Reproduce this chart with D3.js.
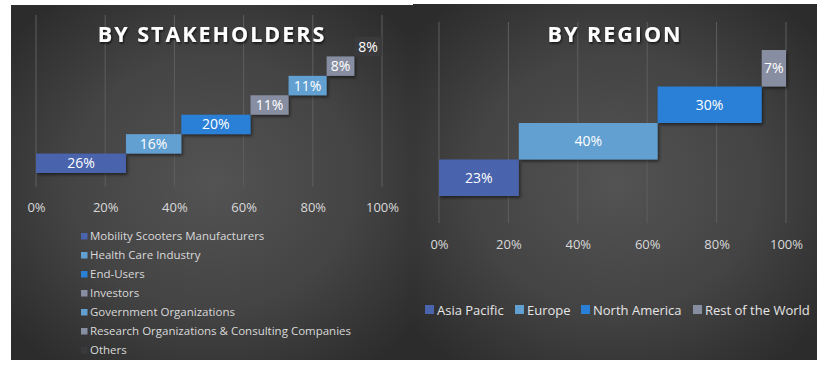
<!DOCTYPE html>
<html>
<head>
<meta charset="utf-8">
<script src="https://cdn.jsdelivr.net/npm/d3@7"></script>
<style>
  body { margin: 0; background: #fff; }
  text { font-family: 'Open Sans', 'Noto Sans', sans-serif; }
</style>
</head>
<body>
<div id="chart"></div>
<script>
// stakeholders
var stakeholders = ['Mobility Scooters Manufacturers', 'Health Care Industry', 'End-Users', 'Investors',
    'Government Organizations', 'Research Organizations & Consulting Companies', 'Others']
var stakeValues = [26, 16, 20, 11, 11, 8, 8]
var stakeColors = ['#4a64ad', '#62a0d2', '#2a7fd6', '#888ea2', '#62a0d2', '#888ea2', '#3a3a3c']

// regions
var regions = ['Asia Pacific', 'Europe', 'North America', 'Rest of the World']
var regionValues = [23, 40, 30, 7]
var regionColors = ['#4a64ad', '#62a0d2', '#2a7fd6', '#888ea2']

var tickValues = [0, 20, 40, 60, 80, 100]

var width = 837, height = 374

var svg = d3.select('#chart').append('svg')
    .attr('width', width)
    .attr('height', height)

var defs = svg.append('defs')

function radial(id) {
    var g = defs.append('radialGradient')
        .attr('id', id)
        .attr('cx', '50%').attr('cy', '50%').attr('r', '65%')
    g.append('stop').attr('offset', '0%').attr('stop-color', '#535353')
    g.append('stop').attr('offset', '55%').attr('stop-color', '#444445')
    g.append('stop').attr('offset', '100%').attr('stop-color', '#2c2c2c')
}
radial('bg-left')
radial('bg-right')

var shadow = defs.append('filter').attr('id', 'shadow')
    .attr('x', '-10%').attr('y', '-10%').attr('width', '130%').attr('height', '140%')
shadow.append('feDropShadow')
    .attr('dx', 1.5).attr('dy', 2).attr('stdDeviation', 1.5)
    .attr('flood-color', '#000').attr('flood-opacity', 0.5)

var tshadow = defs.append('filter').attr('id', 'tshadow')
tshadow.append('feDropShadow')
    .attr('dx', 1).attr('dy', 1.5).attr('stdDeviation', 1.2)
    .attr('flood-color', '#000').attr('flood-opacity', 0.7)

// backgrounds
svg.append('rect').attr('x', 11).attr('y', 5).attr('width', 402).attr('height', 355)
    .attr('fill', 'url(#bg-left)')
svg.append('rect').attr('x', 413).attr('y', 4).attr('width', 404).attr('height', 356)
    .attr('fill', 'url(#bg-right)')

function waterfall(cfg) {
    var g = svg.append('g')

    var x = d3.scaleLinear().domain([0, 100]).range([cfg.x0, cfg.x1])
    var y = d3.scaleBand().domain(cfg.names).range([cfg.yBottom, cfg.yTop]).padding(0)

    // gridlines
    g.selectAll('.grid').data(tickValues).enter().append('line')
        .attr('x1', d => x(d)).attr('x2', d => x(d))
        .attr('y1', cfg.gridTop).attr('y2', cfg.gridBottom)
        .attr('stroke', '#5e5e5e').attr('stroke-width', 1)

    // axis labels
    var axis = d3.axisBottom(x).tickValues(tickValues).tickFormat(d => d + '%').tickSize(0)
    var ax = g.append('g')
        .attr('transform', 'translate(0,' + cfg.axisY + ')')
        .call(axis)
    ax.select('.domain').remove()
    ax.selectAll('text')
        .attr('fill', '#d9d9d9')
        .style('font-size', '13px')
        .style('font-family', "'Open Sans', sans-serif")

    var data = []
    var cum = 0
    cfg.values.forEach((v, i) => {
        data.push({ name: cfg.names[i], start: cum, value: v, color: cfg.colors[i] })
        cum += v
    })

    g.selectAll('.bar').data(data).enter().append('rect')
        .attr('x', d => x(d.start))
        .attr('y', d => y(d.name))
        .attr('width', d => x(d.start + d.value) - x(d.start))
        .attr('height', y.bandwidth())
        .attr('fill', d => d.color)
        .attr('filter', d => d.name == 'Others' ? null : 'url(#shadow)')

    g.selectAll('.lbl').data(data).enter().append('text')
        .attr('x', d => x(d.start + d.value / 2))
        .attr('y', d => y(d.name) + y.bandwidth() / 2)
        .attr('dy', '0.36em')
        .attr('text-anchor', 'middle')
        .attr('fill', '#fff')
        .style('font-size', cfg.labelSize)
        .text(d => d.value + '%')

    g.append('text')
        .attr('x', cfg.titleX).attr('y', 42)
        .attr('text-anchor', 'middle')
        .attr('fill', '#fff')
        .attr('filter', 'url(#tshadow)')
        .style('font-size', '21.5px')
        .style('font-weight', 'bold')
        .style('letter-spacing', '2px')
        .text(cfg.title)
}

waterfall({
    names: stakeholders, values: stakeValues, colors: stakeColors,
    x0: 36, x1: 382, yTop: 37, yBottom: 173, gridTop: 15, gridBottom: 187,
    axisY: 200, labelSize: '14px', title: 'BY STAKEHOLDERS', titleX: 212
})

waterfall({
    names: regions, values: regionValues, colors: regionColors,
    x0: 439, x1: 786, yTop: 50, yBottom: 196, gridTop: 22, gridBottom: 223,
    axisY: 237, labelSize: '14px', title: 'BY REGION', titleX: 615
})

// left legend
var legL = svg.append('g')
legL.selectAll('rect').data(stakeholders).enter().append('rect')
    .attr('x', 81).attr('y', (d, i) => 233 + i * 19)
    .attr('width', 6.5).attr('height', 6.5)
    .attr('fill', (d, i) => stakeColors[i])
legL.selectAll('text').data(stakeholders).enter().append('text')
    .attr('x', 90).attr('y', (d, i) => 236 + i * 19)
    .attr('dy', '0.35em')
    .attr('fill', '#d9d9d9')
    .style('font-size', '11.5px')
    .text(d => d)

// right legend
var legX = [425, 515, 581, 693]
var legR = svg.append('g')
legR.selectAll('rect').data(regions).enter().append('rect')
    .attr('x', (d, i) => legX[i]).attr('y', 305)
    .attr('width', 9).attr('height', 9)
    .attr('fill', (d, i) => regionColors[i])
legR.selectAll('text').data(regions).enter().append('text')
    .attr('x', (d, i) => legX[i] + 12).attr('y', 310)
    .attr('dy', '0.35em')
    .attr('fill', '#e6e6e6')
    .style('font-size', '13px')
    .text(d => d)
</script>
</body>
</html>
